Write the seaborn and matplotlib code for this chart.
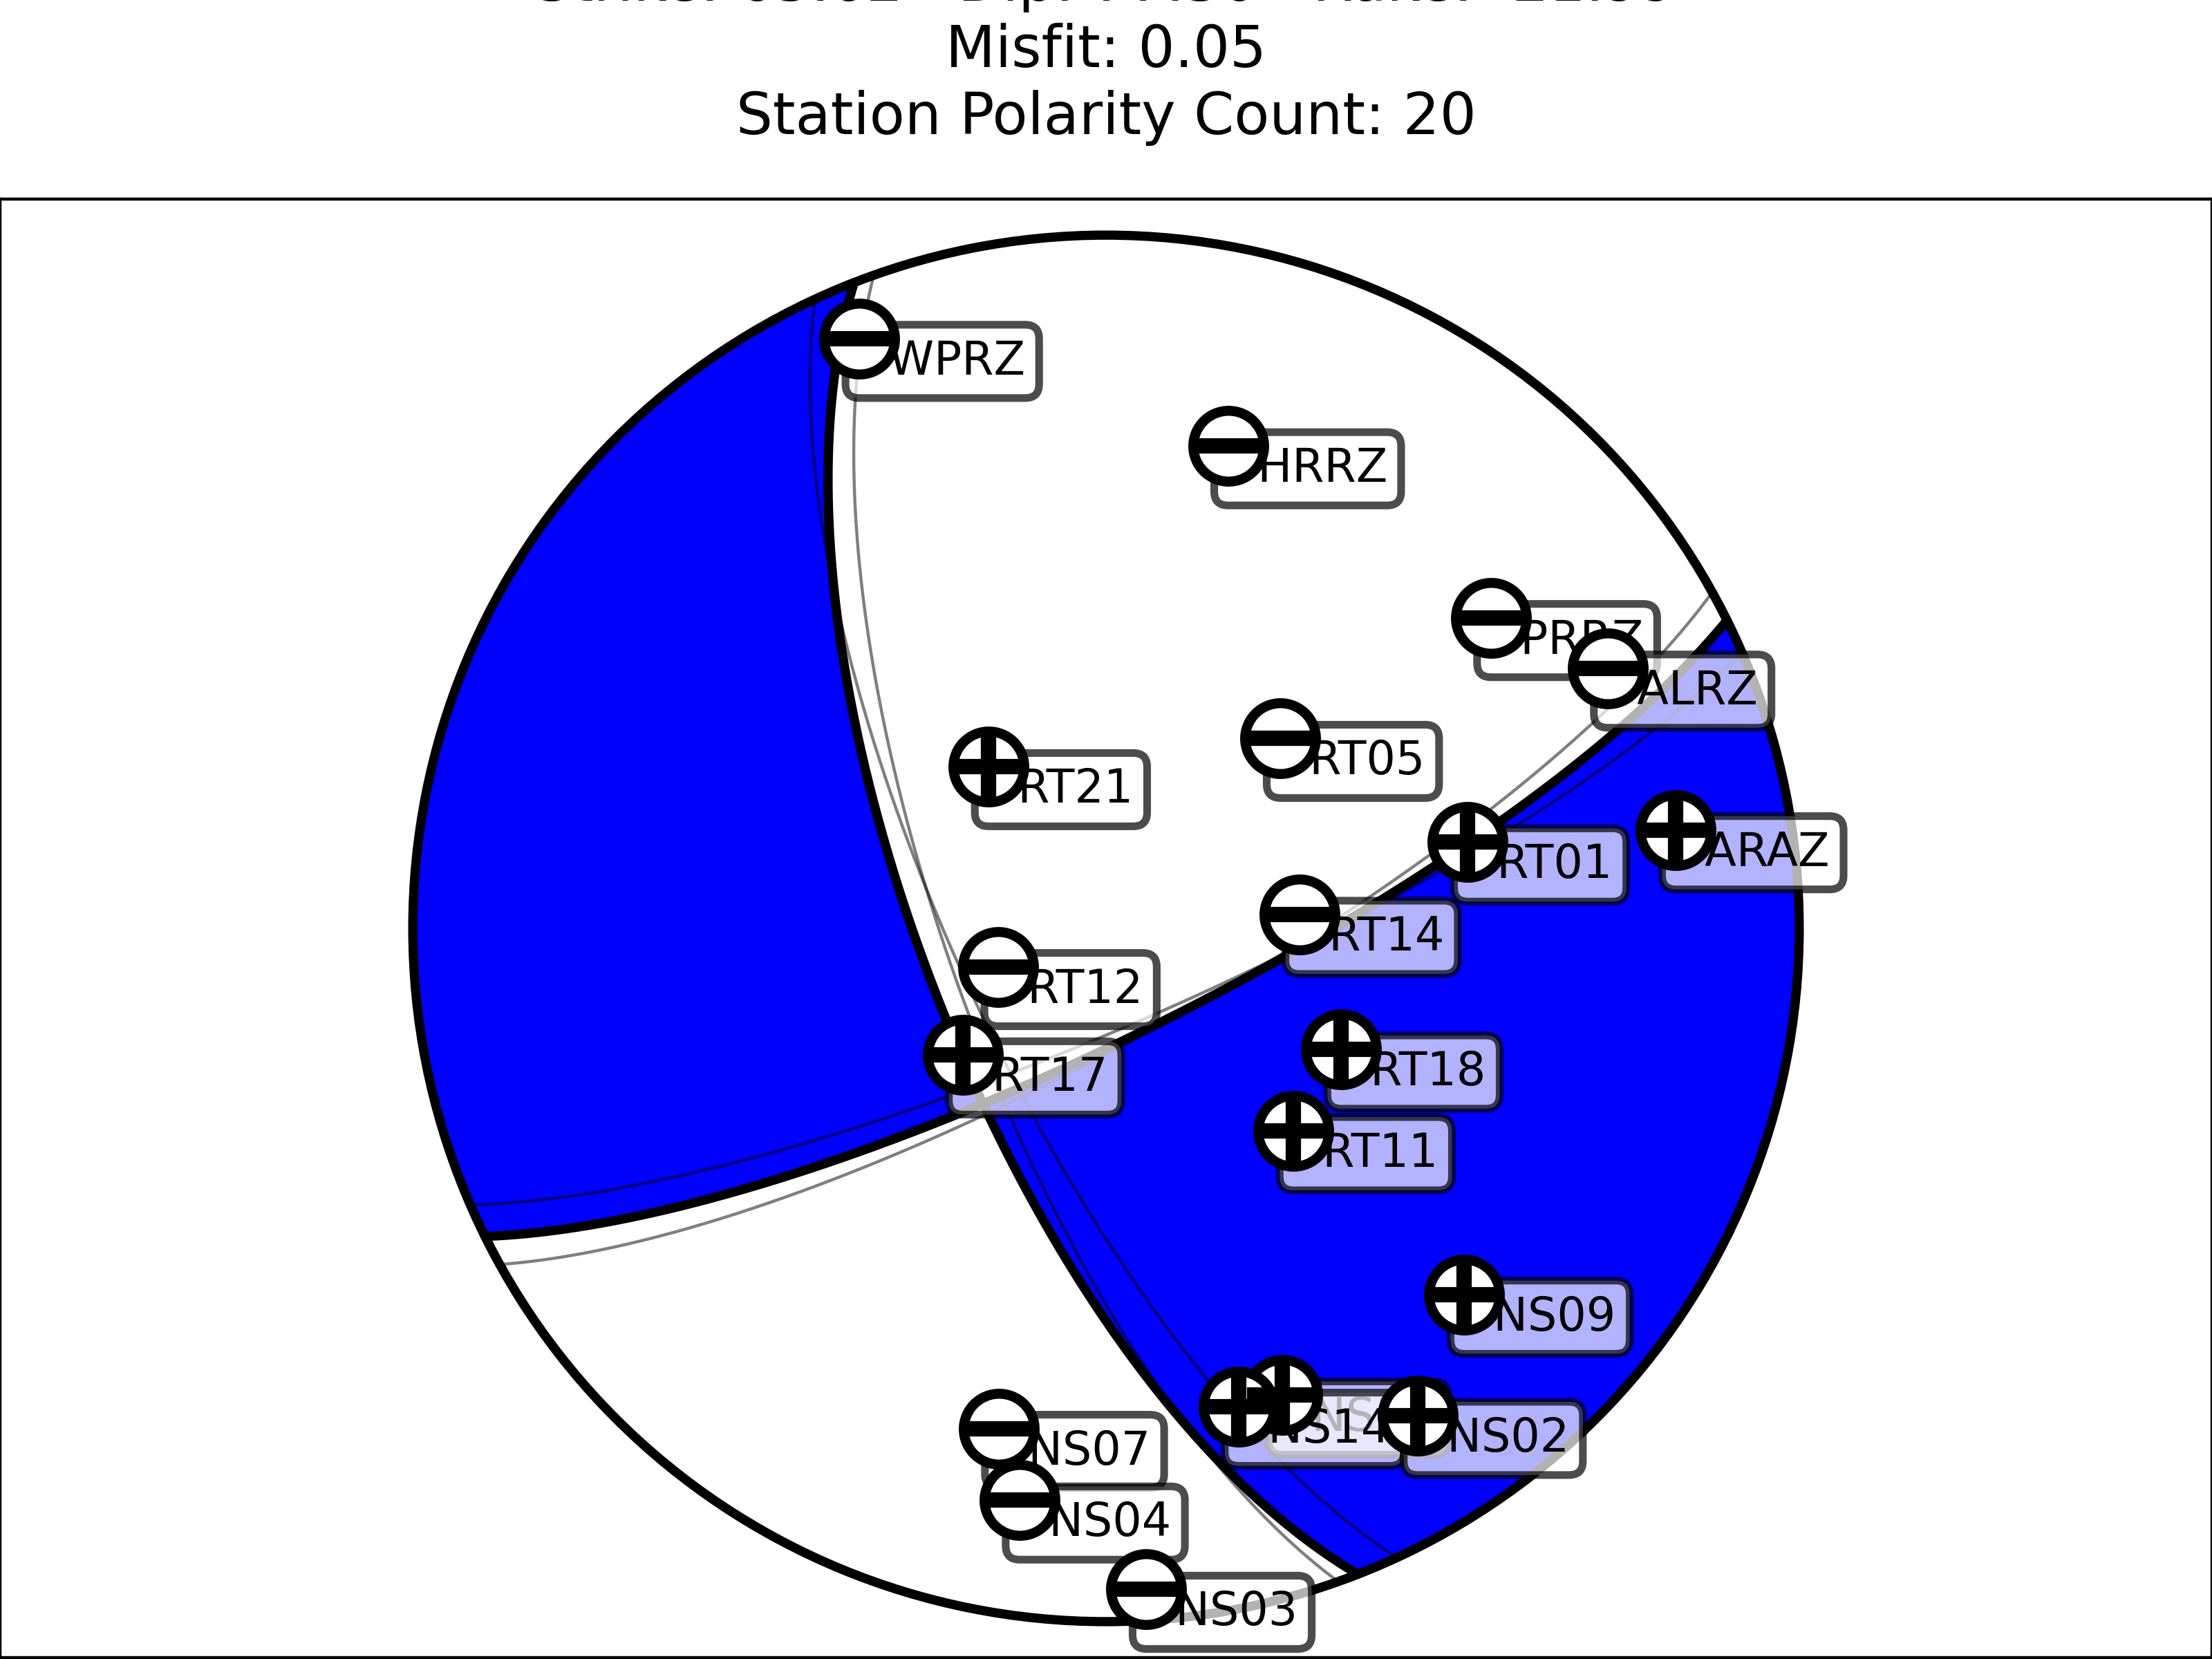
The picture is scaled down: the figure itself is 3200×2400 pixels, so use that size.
import numpy as np
import pandas as pd
import matplotlib
matplotlib.use("Agg")
import matplotlib.pyplot as plt
from matplotlib.patches import Circle
import seaborn as sns

# best double-couple solution
strike = 63.62
dip = 77.30
rake = -21.99
misfit = 0.05

# other acceptable solutions, drawn faintly
alt_strike = [61.0, 66.5]
alt_dip = [77.0, 78.5]
alt_rake = [-18.0, -19.0]

# station polarities (lower hemisphere)
stations = ["WPRZ", "HRRZ", "PRRZ", "ALRZ", "RT05", "RT21", "RT01", "ARAZ",
            "RT14", "RT12", "RT17", "RT18", "RT11", "NS09", "NS13", "NS14",
            "NS02", "NS07", "NS04", "NS03"]
azimuth = [337.3, 14.2, 51.1, 62.6, 42.6, 324.0, 76.6, 80.2,
           85.9, 250.4, 228.5, 117.2, 137.2, 135.6, 159.3, 164.5,
           147.4, 192.1, 188.6, 176.5]
takeoff = [81.4, 61.0, 60.6, 70.4, 30.5, 23.5, 44.6, 72.3,
           22.8, 13.4, 22.5, 31.3, 32.7, 63.0, 61.2, 60.8,
           72.3, 62.9, 72.3, 85.0]
polarity = [-1, -1, -1, -1, -1, 1, 1, 1,
            -1, -1, 1, 1, 1, 1, 1, 1,
            1, -1, -1, -1]


def fault_vectors(s, d, r):
    s, d, r = np.radians([s, d, r])
    n = np.array([-np.sin(d) * np.sin(s), np.sin(d) * np.cos(s), -np.cos(d)])
    u = np.array([np.cos(r) * np.cos(s) + np.sin(r) * np.cos(d) * np.sin(s),
                  np.cos(r) * np.sin(s) - np.sin(r) * np.cos(d) * np.cos(s),
                  -np.sin(r) * np.sin(d)])
    return n, u


def project(v):
    # equal-area lower hemisphere, v = (north, east, down)
    theta = np.arccos(np.clip(v[2], -1, 1))
    rr = np.sqrt(2) * np.sin(theta / 2)
    az = np.arctan2(v[1], v[0])
    return rr * np.sin(az), rr * np.cos(az)


def unproject(x, y):
    rr = np.clip(np.hypot(x, y), 0, 1)
    theta = 2 * np.arcsin(rr / np.sqrt(2))
    az = np.arctan2(x, y)
    return np.array([np.sin(theta) * np.cos(az), np.sin(theta) * np.sin(az), np.cos(theta)])


def nodal_curve(normal):
    a = np.cross(normal, [0, 0, 1.0])
    a /= np.linalg.norm(a)
    b = np.cross(normal, a)
    if b[2] < 0:
        b = -b
    t = np.linspace(0, np.pi, 500)
    v = np.outer(np.cos(t), a) + np.outer(np.sin(t), b)
    return project(v.T)


fig = plt.figure(figsize=(8, 6), dpi=400)
ax = fig.add_axes([0.0, 0.0008, 1.0, 0.8792])

# filled beachball
g = np.linspace(-1.0, 1.0, 1201)
X, Y = np.meshgrid(g, g)
V = unproject(X, Y)
n, u = fault_vectors(strike, dip, rake)
field = np.einsum('i,ijk->jk', n, V) * np.einsum('i,ijk->jk', u, V)
ball = Circle((0, 0), 1, transform=ax.transData)
cf = ax.contourf(X, Y, field, levels=[-2, 0, 2], colors=['white', 'blue'],
                 antialiased=True, zorder=1)
cf.set_clip_path(ball)

for s_, d_, r_ in zip(alt_strike, alt_dip, alt_rake):
    na, ua = fault_vectors(s_, d_, r_)
    for vec in (na, ua):
        cx, cy = nodal_curve(vec)
        ax.plot(cx, cy, color='black', alpha=0.5, lw=0.8, zorder=2)

for vec in (n, u):
    cx, cy = nodal_curve(vec)
    ax.plot(cx, cy, color='black', lw=2.4, zorder=3, solid_capstyle='round')
ax.add_patch(Circle((0, 0), 1, fill=False, ec='black', lw=2.4, zorder=3))

# stations
st = pd.DataFrame({"station": stations, "azimuth": azimuth,
                   "takeoff": takeoff, "polarity": polarity})
az_r = np.radians(st.azimuth.values)
to_r = np.radians(st.takeoff.values)
st["x"], st["y"] = project(np.array([np.sin(to_r) * np.cos(az_r),
                                     np.sin(to_r) * np.sin(az_r),
                                     np.cos(to_r)]))

for _, row in st.iterrows():
    ax.text(row.x, row.y, "  " + row.station, ha='left', va='top', fontsize=12,
            zorder=5, bbox=dict(boxstyle='round', facecolor='white', alpha=0.7, lw=2))

sns.scatterplot(data=st, x='x', y='y', ax=ax, s=340, color='white',
                edgecolor='black', linewidth=2.6, zorder=6, legend=False)
sns.scatterplot(data=st[st.polarity > 0], x='x', y='y', ax=ax, marker='+', s=340,
                color='black', linewidth=4.0, zorder=7, legend=False)
sns.scatterplot(data=st[st.polarity < 0], x='x', y='y', ax=ax, marker='_', s=340,
                color='black', linewidth=4.0, zorder=7, legend=False)

ax.set_ylim(-1.052, 1.052)
ax.set_xlim(-1.5955, 1.5955)
ax.set_xticks([])
ax.set_yticks([])
ax.set_xlabel('')
ax.set_ylabel('')

title = (f"Strike: {strike:.2f}   Dip: {dip:.2f}   Rake: {rake:.2f}\n"
         f"Misfit: {misfit:.2f}\nStation Polarity Count: {len(stations)}")
fig.text(0.5, 1 - 211 / 2400, title, ha='center', va='bottom',
         fontsize=15, linespacing=1.245)

fig.savefig("out.png", dpi=400)
